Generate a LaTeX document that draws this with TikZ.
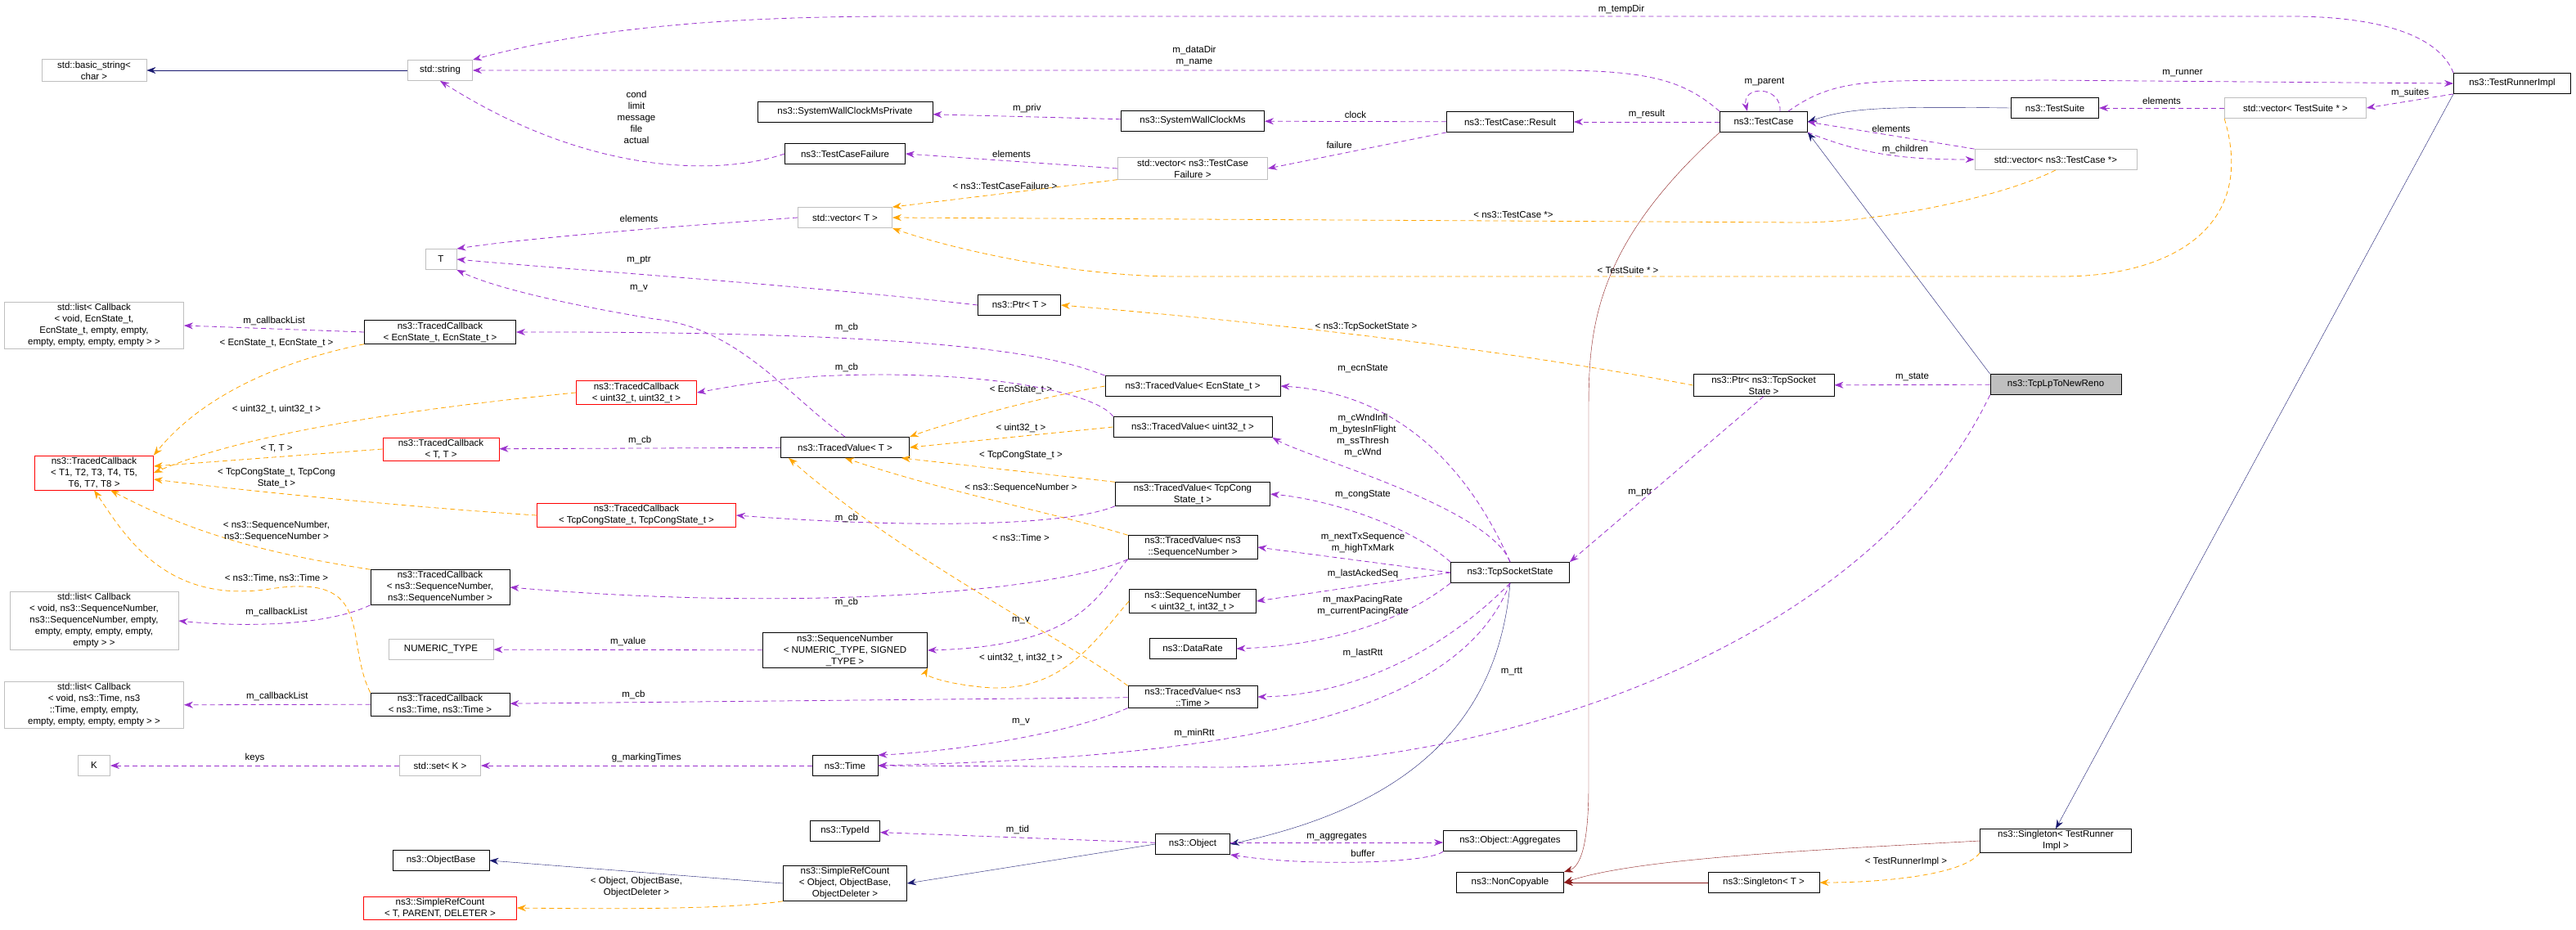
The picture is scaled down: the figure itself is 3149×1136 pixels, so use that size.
\documentclass[tikz,border=0pt]{standalone}
\usepackage{fontspec}
\setmainfont{Liberation Sans}
\usetikzlibrary{arrows.meta,calc}
\definecolor{membcol}{HTML}{9A32CD}
\definecolor{tmplcol}{HTML}{FFA500}
\definecolor{basecol}{HTML}{191970}
\definecolor{privcol}{HTML}{8B1A1A}
\tikzset{
	cls/.style={draw=black, thick, fill=white, align=center, minimum height=25, inner sep=2, font=\fontsize{11.5}{14}\selectfont},
	ext/.style={cls, draw=gray!50},
	undoc/.style={cls, draw=red},
	lbl/.style={align=center, inner sep=0, font=\fontsize{11.5}{14}\selectfont},
	memb/.style={draw=membcol, thick, dash pattern=on 6pt off 4pt, -{Stealth[length=11pt,width=8pt]}},
	tmpl/.style={draw=tmplcol, thick, dash pattern=on 6pt off 4pt, -{Stealth[length=11pt,width=8pt]}},
	inh/.style={draw=basecol, -{Stealth[length=11pt,width=8pt]}},
	priv/.style={draw=privcol, -{Stealth[length=11pt,width=8pt]}}
}
\begin{document}
\begin{tikzpicture}[x=1pt, y=-1pt]
	% page: 3149 x 1136, y grows downwards
	\useasboundingbox (0,0) rectangle (3149,1136);
	% classes, left column
	\node[ext, minimum width=128] (bstr) at (115,86) {std::basic\_string<\\char >};
	\node[ext, minimum width=219] (lecn) at (115,398) {std::list< Callback\\< void, EcnState\_t,\\EcnState\_t, empty, empty,\\empty, empty, empty, empty > >};
	\node[undoc, minimum width=145] (tcall) at (115,578) {ns3::TracedCallback\\< T1, T2, T3, T4, T5,\\T6, T7, T8 >};
	\node[ext, minimum width=206] (lseq) at (115,759) {std::list< Callback\\< void, ns3::SequenceNumber,\\ns3::SequenceNumber, empty,\\empty, empty, empty, empty,\\empty > >};
	\node[ext, minimum width=219] (ltime) at (115,862) {std::list< Callback\\< void, ns3::Time, ns3\\::Time, empty, empty,\\empty, empty, empty, empty > >};
	\node[ext, minimum width=39] (keyk) at (115,936) {K};
	% second column
	\node[ext, minimum width=79] (sstr) at (538,86) {std::string};
	\node[ext, minimum width=38] (tt) at (539,317) {T};
	\node[cls, minimum width=185] (tcecn) at (538,406) {ns3::TracedCallback\\< EcnState\_t, EcnState\_t >};
	\node[undoc, minimum width=142] (tctt) at (539,549) {ns3::TracedCallback\\< T, T >};
	\node[cls, minimum width=170] (tcseq) at (538,718) {ns3::TracedCallback\\< ns3::SequenceNumber,\\ns3::SequenceNumber >};
	\node[ext, minimum width=128] (numt) at (539,794) {NUMERIC\_TYPE};
	\node[cls, minimum width=170] (tctime) at (538,861) {ns3::TracedCallback\\< ns3::Time, ns3::Time >};
	\node[ext, minimum width=99] (setk) at (538,936) {std::set< K >};
	\node[cls, minimum width=118] (objbase) at (539,1052) {ns3::ObjectBase};
	\node[undoc, minimum width=187] (srct) at (538,1110) {ns3::SimpleRefCount\\< T, PARENT, DELETER >};
	\node[undoc, minimum width=147] (tcu32) at (778,480) {ns3::TracedCallback\\< uint32\_t, uint32\_t >};
	\node[undoc, minimum width=243] (tccong) at (778,630) {ns3::TracedCallback\\< TcpCongState\_t, TcpCongState\_t >};
	% third column
	\node[cls, minimum width=214] (swpriv) at (1033,137) {ns3::SystemWallClockMsPrivate};
	\node[cls, minimum width=147] (tcfail) at (1033,188) {ns3::TestCaseFailure};
	\node[ext, minimum width=115] (vect) at (1033,266) {std::vector< T >};
	\node[cls, minimum width=157] (tvt) at (1033,547) {ns3::TracedValue< T >};
	\node[cls, minimum width=201] (seqnum) at (1033,795) {ns3::SequenceNumber\\< NUMERIC\_TYPE, SIGNED\\\_TYPE >};
	\node[cls, minimum width=80] (timen) at (1033,936) {ns3::Time};
	\node[cls, minimum width=85] (typeid) at (1033,1016) {ns3::TypeId};
	\node[cls, minimum width=151] (srcobj) at (1033,1080) {ns3::SimpleRefCount\\< Object, ObjectBase,\\ObjectDeleter >};
	\node[cls, minimum width=101] (ptrt) at (1246,373) {ns3::Ptr< T >};
	% fourth column
	\node[cls, minimum width=175] (swms) at (1458,148) {ns3::SystemWallClockMs};
	\node[ext, minimum width=183] (vfail) at (1458,206) {std::vector< ns3::TestCase\\Failure >};
	\node[cls, minimum width=214] (tvecn) at (1458,472) {ns3::TracedValue< EcnState\_t >};
	\node[cls, minimum width=194] (tvu32) at (1458,522) {ns3::TracedValue< uint32\_t >};
	\node[cls, minimum width=189] (tvcong) at (1458,604) {ns3::TracedValue< TcpCong\\State\_t >};
	\node[cls, minimum width=158] (tvseq) at (1458,669) {ns3::TracedValue< ns3\\::SequenceNumber >};
	\node[cls, minimum width=155] (sequint) at (1458,735) {ns3::SequenceNumber\\< uint32\_t, int32\_t >};
	\node[cls, minimum width=106] (drate) at (1458,793) {ns3::DataRate};
	\node[cls, minimum width=158] (tvtime) at (1458,852) {ns3::TracedValue< ns3\\::Time >};
	\node[cls, minimum width=91] (obj) at (1458,1032) {ns3::Object};
	% fifth column
	\node[cls, minimum width=155] (result) at (1846,149) {ns3::TestCase::Result};
	\node[cls, minimum width=145] (tss) at (1846,700) {ns3::TcpSocketState};
	\node[cls, minimum width=163] (aggr) at (1846,1028) {ns3::Object::Aggregates};
	\node[cls, minimum width=131] (noncp) at (1846,1079) {ns3::NonCopyable};
	% right part
	\node[cls, minimum width=107] (tcase) at (2156,149) {ns3::TestCase};
	\node[cls, minimum width=172] (ptrtss) at (2156,471) {ns3::Ptr< ns3::TcpSocket\\State >};
	\node[cls, minimum width=136] (singt) at (2156,1079) {ns3::Singleton< T >};
	\node[cls, minimum width=107] (tsuite) at (2512,132) {ns3::TestSuite};
	\node[ext, minimum width=198] (vcase) at (2513,195) {std::vector< ns3::TestCase *>};
	\node[cls, fill=gray!50, minimum width=160] (tcplp) at (2513,470) {ns3::TcpLpToNewReno};
	\node[cls, minimum width=185] (singtri) at (2513,1028) {ns3::Singleton< TestRunner\\Impl >};
	\node[ext, minimum width=173] (vsuite) at (2806,132) {std::vector< TestSuite * >};
	\node[cls, minimum width=143] (runner) at (3071,102) {ns3::TestRunnerImpl};

	% inheritance
	\draw[inh] (sstr) -- (bstr);
	\draw[inh] (tsuite.west) .. controls (2300,130) and (2260,132) .. (tcase.east);
	\draw[inh] (tcplp.north west) -- (tcase.south east);
	\draw[inh] (runner.south west) -- (singtri.north);
	\draw[inh] (tss.south) .. controls (1830,900) and (1700,990) .. (obj.east);
	\draw[inh] (obj.west) -- (srcobj.east);
	\draw[inh] (srcobj.west) -- (objbase.east);
	\draw[priv] (tcase.south west) .. controls (1950,300) and (1942,400) .. (1942,500) -- (1942,960) .. controls (1942,1040) and (1930,1060) .. (noncp.north east);
	\draw[priv] (singtri.west) .. controls (2200,1040) and (2000,1050) .. (noncp.east);
	\draw[priv] (singt) -- (noncp);

	% members of the test classes
	\draw[memb] (runner.north west) .. controls (2980,40) and (2900,20) .. (2800,20) -- (1100,20) .. controls (850,20) and (700,40) .. (sstr.north east);
	\node[lbl] (ltmp) at (1982,12) {m\_tempDir};
	\draw[memb] (tcase.north west) .. controls (2060,100) and (2020,86) .. (1900,86) -- (sstr.east);
	\node[lbl] (ldir) at (1460,68) {m\_dataDir\\m\_name};
	\draw[memb] (tcfail.west) .. controls (880,215) and (720,215) .. (sstr.south);
	\node[lbl] (lcond) at (778,143) {cond\\limit\\message\\file\\actual};
	\draw[memb] (swms) -- (swpriv) node[lbl, midway, above=4] (lpriv) {m\_priv};
	\draw[memb] (result) -- (swms) node[lbl, midway, above=4] (lclock) {clock};
	\draw[memb] (result.south west) -- (vfail.east) node[lbl, pos=0.6, above=6] (lfail) {failure};
	\draw[memb] (vfail.west) -- (tcfail.east) node[lbl, midway, above=4] (lelem) {elements};
	\draw[tmpl] (vfail.south west) -- (vect.north east) node[lbl, midway, above=4] (lfailt) {< ns3::TestCaseFailure >};
	\draw[tmpl] (vcase.south) .. controls (2450,240) and (2300,272) .. (2200,272) -- (vect.east);
	\node[lbl] (lcaset) at (1850,263) {< ns3::TestCase *>};
	\draw[tmpl] (vsuite.south west) .. controls (2760,280) and (2650,338) .. (2520,338) -- (1440,338) .. controls (1300,338) and (1150,300) .. (vect.south east);
	\node[lbl] (lsuitet) at (1990,330) {< TestSuite * >};
	\draw[memb] (tcase) -- (result) node[lbl, midway, above=4] (lres) {m\_result};
	\draw[memb] ($(tcase.north)+(20,0)$) .. controls ($(tcase.north)+(22,-32)$) and ($(tcase.north)+(-28,-32)$) .. ($(tcase.north)+(-20,0)$);
	\node[lbl] (lpar) at (2157,100) {m\_parent};
	\draw[memb] ($(tcase.north)+(30,0)$) .. controls (2250,90) and (2300,100) .. (2500,98) -- (runner.west);
	\node[lbl] (lrun) at (2668,90) {m\_runner};
	\draw[memb] (runner.south west) -- (vsuite.east) node[lbl, midway, above=4] (lsuites) {m\_suites};
	\draw[memb] (vsuite) -- (tsuite) node[lbl, midway, above=4] (lelem2) {elements};
	\draw[memb] (vcase.north west) -- (tcase.east) node[lbl, midway, above=4] (lelem3) {elements};
	\draw[memb] (tcase.south east) .. controls (2280,190) and (2330,195) .. (vcase.west);
	\node[lbl] (lchild) at (2329,182) {m\_children};
	\draw[memb] (tcplp) -- (ptrtss) node[lbl, midway, above=4] (lstate) {m\_state};
	\draw[tmpl] (ptrtss.west) .. controls (1800,420) and (1500,390) .. (ptrt.east);
	\node[lbl] (lptrt) at (1670,400) {< ns3::TcpSocketState >};
	\draw[memb] (ptrtss.south) -- (tss.north east);
	\node[lbl] (lptr) at (2005,602) {m\_ptr};
	\draw[memb] (ptrt.west) .. controls (1000,350) and (700,330) .. (tt.east);
	\node[lbl] (lptr2) at (781,318) {m\_ptr};
	\draw[memb] (vect.west) .. controls (850,275) and (650,290) .. (tt.north east);
	\node[lbl] (lelem4) at (781,267) {elements};
	\draw[memb] (tvt.north) .. controls (960,480) and (900,400) .. (800,390) .. controls (680,370) and (600,350) .. (tt.south east);
	\node[lbl] (lv) at (781,353) {m\_v};
	\draw[memb] (tcplp.south west) .. controls (2300,760) and (1900,930) .. (1500,938) -- (timen.east);
	\node[lbl] (lrtt) at (1848,821) {m\_rtt};
	\draw[tmpl] (singtri.south west) .. controls (2400,1070) and (2300,1079) .. (singt.east);
	\node[lbl] (lsingt) at (2330,1054) {< TestRunnerImpl >};

	% traced callbacks
	\draw[memb] (tcecn.west) -- (lecn.east) node[lbl, midway, above=4] (lcbl) {m\_callbackList};
	\draw[tmpl] (tcecn.south west) .. controls (350,440) and (250,480) .. (tcall.north east);
	\node[lbl] (lecnt) at (338,420) {< EcnState\_t, EcnState\_t >};
	\draw[tmpl] (tcu32.west) .. controls (500,500) and (300,530) .. (tcall.east);
	\node[lbl] (lu32t) at (338,500) {< uint32\_t, uint32\_t >};
	\draw[tmpl] (tctt.west) -- ($(tcall.east)+(0,-8)$);
	\node[lbl] (lttt) at (338,548) {< T, T >};
	\draw[tmpl] (tccong.west) .. controls (500,620) and (300,600) .. ($(tcall.east)+(0,8)$);
	\node[lbl] (lcongt) at (338,585) {< TcpCongState\_t, TcpCong\\State\_t >};
	\draw[tmpl] (tcseq.north west) .. controls (350,680) and (250,660) .. ($(tcall.south)+(20,0)$);
	\node[lbl] (lseqt) at (338,650) {< ns3::SequenceNumber,\\ns3::SequenceNumber >};
	\draw[tmpl] (tctime.north west) .. controls (420,780) and (460,700) .. (330,720) .. controls (200,740) and (150,650) .. (tcall.south);
	\node[lbl] (ltimet) at (338,707) {< ns3::Time, ns3::Time >};
	\draw[memb] (tcseq.south west) .. controls (400,765) and (300,767) .. (lseq.east);
	\node[lbl] (lcbl2) at (338,748) {m\_callbackList};
	\draw[memb] (tctime) -- (ltime) node[lbl, midway, above=4] (lcbl3) {m\_callbackList};
	\draw[memb] (setk) -- (keyk) node[lbl, midway, above=4] (lkeys) {keys};
	\draw[memb] (timen) -- (setk) node[lbl, midway, above=4] (lmark) {g\_markingTimes};
	\draw[memb] (seqnum) -- (numt) node[lbl, midway, above=4] (lval) {m\_value};
	\draw[tmpl] (srcobj.south west) .. controls (900,1110) and (800,1112) .. (srct.east);
	\node[lbl] (lsrct) at (778,1085) {< Object, ObjectBase,\\ObjectDeleter >};
	\draw[memb] (obj) -- (typeid) node[lbl, midway, above=4] (ltid) {m\_tid};
	\draw[memb] ($(obj.east)+(0,-2)$) -- ($(aggr.west)+(0,2)$) node[lbl, midway, above=2] (lagg) {m\_aggregates};
	\draw[memb] (aggr.south west) .. controls (1750,1055) and (1600,1060) .. (obj.south east);
	\node[lbl] (lbuf) at (1666,1043) {buffer};

	% traced values
	\draw[memb] (tvecn.north west) .. controls (1300,440) and (1200,405) .. (tcecn.east);
	\node[lbl] (lcb1) at (1035,400) {m\_cb};
	\draw[tmpl] (tvecn.west) .. controls (1250,490) and (1150,520) .. (tvt.north east);
	\node[lbl] (lecnt2) at (1248,477) {< EcnState\_t >};
	\draw[memb] (tvu32.north west) .. controls (1340,480) and (1200,450) .. (1000,460) .. controls (930,465) and (880,475) .. (tcu32.east);
	\node[lbl] (lcb2) at (1035,449) {m\_cb};
	\draw[tmpl] (tvu32.west) -- (tvt.east);
	\node[lbl] (lu32t2) at (1248,523) {< uint32\_t >};
	\draw[tmpl] (tvcong.north west) -- ($(tvt.south east)+(-10,0)$);
	\node[lbl] (lcongt2) at (1248,557) {< TcpCongState\_t >};
	\draw[memb] (tvcong.south west) .. controls (1300,645) and (1100,645) .. (tccong.east);
	\node[lbl] (lcb3) at (1035,633) {m\_cb};
	\draw[memb] (tvt) -- (tctt) node[lbl, midway, above=4] (lcb4) {m\_cb};
	\draw[tmpl] (tvseq.north west) .. controls (1300,630) and (1150,600) .. (tvt.south);
	\node[lbl] (lseqt2) at (1248,597) {< ns3::SequenceNumber >};
	\draw[memb] (tvseq.south west) .. controls (1300,720) and (1000,750) .. (tcseq.east);
	\node[lbl] (lcb5) at (1035,736) {m\_cb};
	\draw[memb] (tvseq.south west) .. controls (1340,730) and (1320,790) .. (seqnum.east);
	\node[lbl] (lv2) at (1248,759) {m\_v};
	\draw[tmpl] (sequint.west) .. controls (1340,780) and (1300,850) .. (1200,840) .. controls (1150,835) and (1130,825) .. (seqnum.south east);
	\node[lbl] (lsequt) at (1248,804) {< uint32\_t, int32\_t >};
	\draw[tmpl] (tvtime.north west) .. controls (1300,780) and (1100,680) .. ($(tvt.south west)+(10,0)$);
	\node[lbl] (ltimet2) at (1248,657) {< ns3::Time >};
	\draw[memb] (tvtime) -- (tctime) node[lbl, pos=0.8, above=4] (lcb6) {m\_cb};
	\draw[memb] (tvtime.south west) .. controls (1300,900) and (1150,920) .. (timen.north east);
	\node[lbl] (lv3) at (1248,883) {m\_v};

	% members of the socket state
	\draw[memb] (tss.north) .. controls (1790,560) and (1700,480) .. (tvecn.east);
	\node[lbl] (lecns) at (1666,451) {m\_ecnState};
	\draw[memb] (tss.north) .. controls (1820,620) and (1600,560) .. (tvu32.south east);
	\node[lbl] (lcwnd) at (1666,532) {m\_cWndInfl\\m\_bytesInFlight\\m\_ssThresh\\m\_cWnd};
	\draw[memb] (tss.north west) .. controls (1720,640) and (1620,610) .. (tvcong.east);
	\node[lbl] (lcong) at (1666,605) {m\_congState};
	\draw[memb] (tss.west) -- (tvseq.east);
	\node[lbl] (lnext) at (1666,664) {m\_nextTxSequence\\m\_highTxMark};
	\draw[memb] (tss.west) -- (sequint.east);
	\node[lbl] (lack) at (1666,702) {m\_lastAckedSeq};
	\draw[memb] (tss.south west) .. controls (1700,770) and (1600,790) .. (drate.east);
	\node[lbl] (lpace) at (1666,741) {m\_maxPacingRate\\m\_currentPacingRate};
	\draw[memb] (tss.south) .. controls (1760,800) and (1650,850) .. (tvtime.east);
	\node[lbl] (llast) at (1666,798) {m\_lastRtt};
	\draw[memb] (tss.south) .. controls (1780,880) and (1500,925) .. (timen.east);
	\node[lbl] (lmin) at (1460,896) {m\_minRtt};
\end{tikzpicture}
\end{document}
